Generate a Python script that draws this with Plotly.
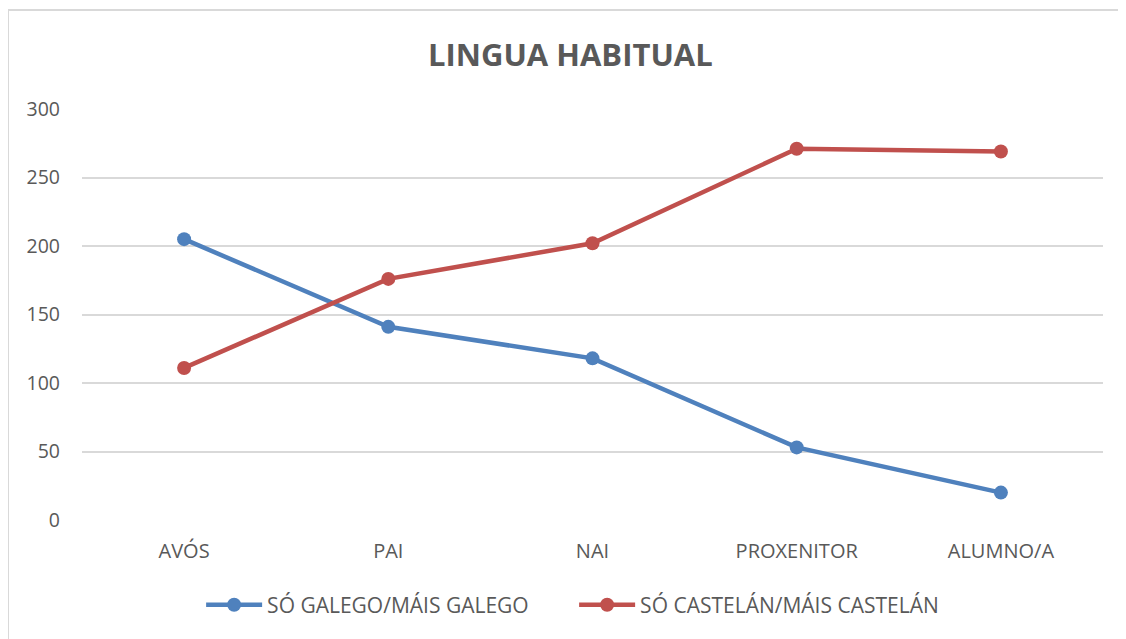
import plotly.graph_objects as go

categories = ["AVÓS", "PAI", "NAI", "PROXENITOR", "ALUMNO/A"]
galego = [205, 141, 118, 53, 20]
castelan = [111, 176, 202, 271, 269]
series_names = ["SÓ GALEGO/MÁIS GALEGO", "SÓ CASTELÁN/MÁIS CASTELÁN"]
y_ticks = [0, 50, 100, 150, 200, 250, 300]

FONT = "Open Sans"
W, H = 1118, 631
fig = go.Figure()
fig.add_trace(go.Scatter(x=categories, y=galego, name=series_names[0], mode="lines+markers",
                         line=dict(color="#4F81BD", width=4.5), marker=dict(size=14, color="#4F81BD")))
fig.add_trace(go.Scatter(x=categories, y=castelan, name=series_names[1], mode="lines+markers",
                         line=dict(color="#C0504D", width=4.5), marker=dict(size=14, color="#C0504D")))

fig.update_layout(
    width=W, height=H,
    margin=dict(l=74, r=23, t=101, b=119),
    paper_bgcolor="white", plot_bgcolor="white",
    title=dict(text="<b>LINGUA HABITUAL</b>", x=0.503, xanchor="center", y=0.9255, yanchor="middle",
               font=dict(family=FONT, size=31, color="#595959")),
    font=dict(family=FONT, size=20, color="#595959"),
    xaxis=dict(type="category", range=[-0.5, 4.5], showgrid=False, showline=False, zeroline=False,
               ticks="", ticklabelstandoff=17, tickfont=dict(size=20, color="#595959")),
    yaxis=dict(range=[0, 300], tickvals=y_ticks, showgrid=True, gridcolor="#D9D9D9", gridwidth=1.5,
               zeroline=False, showline=False, ticks="", ticklabelstandoff=21,
               tickfont=dict(size=19.5, color="#595959")),
    legend=dict(orientation="h", x=0.482, xanchor="center", y=-0.207, yanchor="middle",
                font=dict(size=21, color="#595959"), itemwidth=56, traceorder="normal",
                entrywidth=302),
    shapes=[dict(type="rect", xref="paper", yref="paper", x0=-74/1021, x1=1.1, y0=-0.4, y1=1 + 99/411,
                 line=dict(color="#D9D9D9", width=2), fillcolor="rgba(0,0,0,0)")],
)
fig.write_html("out.html")
